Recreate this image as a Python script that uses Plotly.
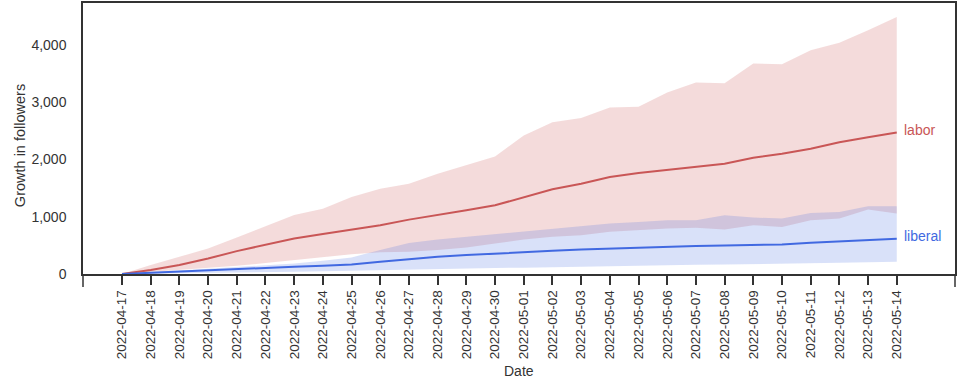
import plotly.graph_objects as go

dates = ["2022-04-17", "2022-04-18", "2022-04-19", "2022-04-20", "2022-04-21", "2022-04-22",
         "2022-04-23", "2022-04-24", "2022-04-25", "2022-04-26", "2022-04-27", "2022-04-28",
         "2022-04-29", "2022-04-30", "2022-05-01", "2022-05-02", "2022-05-03", "2022-05-04",
         "2022-05-05", "2022-05-06", "2022-05-07", "2022-05-08", "2022-05-09", "2022-05-10",
         "2022-05-11", "2022-05-12", "2022-05-13", "2022-05-14"]

labor_mean = [0, 70, 157, 270, 400, 510, 620, 700, 770, 850, 950, 1026, 1113, 1200, 1345, 1480,
              1577, 1693, 1762, 1820, 1866, 1925, 2029, 2099, 2186, 2301, 2388, 2470]
labor_upper = [0, 157, 300, 446, 638, 835, 1030, 1140, 1345, 1490, 1577, 1751, 1896, 2052, 2417,
               2649, 2725, 2910, 2922, 3171, 3345, 3333, 3675, 3664, 3907, 4040, 4255, 4487]
labor_lower = [0, 35, 70, 105, 145, 190, 240, 290, 345, 380, 390, 417, 464, 533, 603, 649, 678,
               736, 765, 794, 806, 777, 852, 823, 939, 968, 1125, 1055]

liberal_mean = [0, 23, 40, 58, 81, 110, 128, 145, 165, 215, 265, 302, 330, 359, 383, 406, 429,
                446, 464, 475, 487, 499, 510, 516, 545, 568, 591, 614]
liberal_upper = [0, 30, 55, 85, 115, 150, 185, 230, 290, 420, 540, 603, 649, 696, 736, 777, 823,
                 881, 910, 939, 939, 1026, 986, 968, 1067, 1084, 1183, 1183]
liberal_lower = [0, 5, 10, 15, 20, 30, 40, 50, 60, 75, 85, 95, 100, 105, 110, 120, 125, 135,
                 150, 155, 160, 165, 170, 175, 185, 195, 205, 215]

series = [
    ("labor", labor_mean, labor_lower, labor_upper, "#C95656", "rgba(205,92,92,0.22)"),
    ("liberal", liberal_mean, liberal_lower, liberal_upper, "#4169E1", "rgba(65,105,225,0.2)"),
]

FONT = "Liberation Sans, Arial, sans-serif"
TXT = "#333333"

fig = go.Figure()
for name, mean, lo, hi, col, fillc in series:
    fig.add_trace(go.Scatter(x=dates, y=lo, mode="lines", line=dict(width=0),
                             hoverinfo="skip", showlegend=False))
    fig.add_trace(go.Scatter(x=dates, y=hi, mode="lines", line=dict(width=0),
                             fill="tonexty", fillcolor=fillc, hoverinfo="skip", showlegend=False))
for name, mean, lo, hi, col, fillc in series:
    fig.add_trace(go.Scatter(x=dates, y=mean, mode="lines", name=name,
                             line=dict(color=col, width=2), showlegend=False))
    fig.add_annotation(x=dates[-1], y=mean[-1], text=name, showarrow=False,
                       xanchor="left", yanchor="middle", xshift=5, yshift=3,
                       font=dict(family=FONT, size=14, color=col))

fig.update_layout(
    width=960, height=382,
    margin=dict(l=83, r=5, t=3, b=108, autoexpand=False),
    plot_bgcolor="white", paper_bgcolor="white",
    font=dict(family=FONT, size=14, color=TXT),
)
fig.update_xaxes(
    type="category", range=[-1.36, 29.03], automargin=False,
    showline=True, linecolor="#333333", linewidth=1.5, mirror=True,
    ticks="outside", ticklen=9, tickwidth=1.5, tickcolor="#333333",
    tickangle=-90, tickfont=dict(size=13.5, color=TXT),
    showgrid=False, zeroline=False,
)
fig.update_yaxes(
    range=[0, 4733], automargin=False,
    tickvals=[0, 1000, 2000, 3000, 4000], ticktext=["0", "1,000", "2,000", "3,000", "4,000"],
    showline=True, linecolor="#333333", linewidth=1.5, mirror=True,
    ticks="outside", ticklen=12, tickcolor="rgba(0,0,0,0)",
    tickfont=dict(size=14, color=TXT),
    showgrid=False, zeroline=False,
)
# spine extensions below the x axis line
for xp in (0, 1):
    fig.add_shape(type="line", xref="paper", yref="paper", x0=xp, x1=xp, y0=0, y1=-0.048,
                  line=dict(color="#333333", width=1.5))

fig.add_annotation(text="Date", xref="paper", yref="paper", x=0.5, y=-0.358,
                   showarrow=False, xanchor="center", yanchor="middle",
                   font=dict(family=FONT, size=14, color=TXT))
fig.add_annotation(text="Growth in followers", xref="paper", yref="paper", x=-0.0722, y=0.472,
                   showarrow=False, xanchor="center", yanchor="middle", textangle=-90,
                   font=dict(family=FONT, size=14.5, color=TXT))

fig.write_html("out.html", config={"displayModeBar": False},
               post_script="document.body.style.margin='0px';document.body.style.overflow='hidden';")
